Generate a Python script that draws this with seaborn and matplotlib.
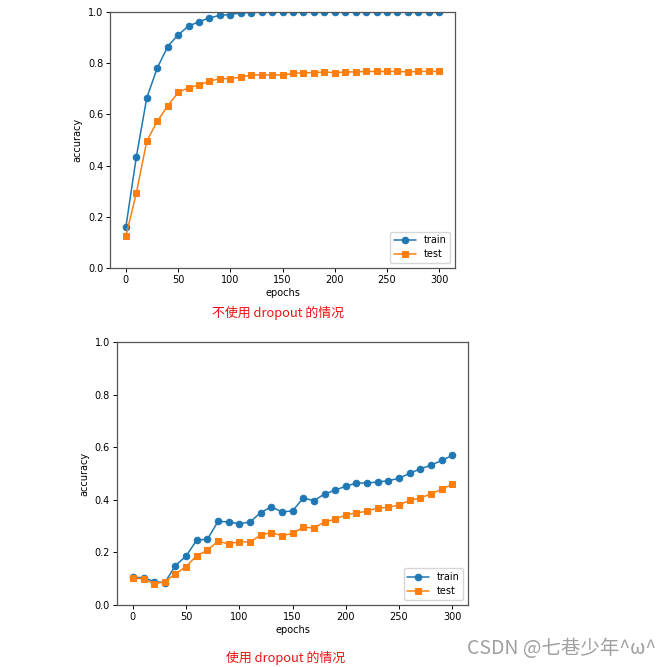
import numpy as np
import pandas as pd
import matplotlib
matplotlib.use('Agg')
import matplotlib.pyplot as plt
import seaborn as sns

# epochs at which values were read (every 10 epochs, markers in the original)
epochs = list(range(0, 301, 10))

# without dropout
train_no_dropout = [0.161, 0.434, 0.665, 0.781, 0.865, 0.911, 0.945, 0.962, 0.977, 0.987,
                    0.990, 0.997, 0.998, 0.999, 1.0, 1.0, 1.0, 1.0, 1.0, 1.0,
                    1.0, 1.0, 1.0, 1.0, 1.0, 1.0, 1.0, 1.0, 1.0, 1.0, 1.0]
test_no_dropout = [0.125, 0.293, 0.496, 0.573, 0.633, 0.686, 0.704, 0.715, 0.730, 0.740,
                   0.740, 0.746, 0.754, 0.754, 0.754, 0.754, 0.760, 0.763, 0.763, 0.766,
                   0.763, 0.766, 0.766, 0.768, 0.768, 0.768, 0.768, 0.766, 0.768, 0.768, 0.768]

# with dropout
train_dropout = [0.105, 0.104, 0.089, 0.085, 0.150, 0.186, 0.247, 0.250, 0.318, 0.316,
                 0.309, 0.316, 0.351, 0.374, 0.354, 0.358, 0.407, 0.397, 0.422, 0.437,
                 0.452, 0.464, 0.464, 0.468, 0.473, 0.482, 0.501, 0.518, 0.532, 0.550, 0.569]
test_dropout = [0.101, 0.100, 0.080, 0.089, 0.118, 0.146, 0.188, 0.208, 0.243, 0.232,
                0.241, 0.239, 0.266, 0.275, 0.264, 0.272, 0.296, 0.293, 0.316, 0.326,
                0.343, 0.350, 0.357, 0.369, 0.371, 0.381, 0.398, 0.407, 0.423, 0.440, 0.459]

captions = ["不使用 dropout 的情况", "使用 dropout 的情况"]
watermark = "CSDN @七巷少年^ω^"

sns.set_style("ticks")
plt.rcParams['font.family'] = ['DejaVu Sans', 'Noto Sans CJK SC']
plt.rcParams['text.color'] = 'black'
plt.rcParams['axes.labelcolor'] = 'black'
plt.rcParams['xtick.color'] = 'black'
plt.rcParams['ytick.color'] = 'black'

BLUE = '#1f77b4'
ORANGE = '#ff7f0e'


def draw_panel(ax, train, test):
    df = pd.DataFrame({"epochs": epochs, "train": train, "test": test})
    sns.lineplot(data=df, x="epochs", y="train", ax=ax, color=BLUE, marker='o',
                 markersize=4.7, markeredgecolor=BLUE, linewidth=1.1, label='train')
    sns.lineplot(data=df, x="epochs", y="test", ax=ax, color=ORANGE, marker='s',
                 markersize=4.4, markeredgecolor=ORANGE, linewidth=1.1, label='test')
    ax.set_xlim(-15, 315)
    ax.set_ylim(0, 1.0)
    ax.set_xticks([0, 50, 100, 150, 200, 250, 300])
    ax.set_yticks([0.0, 0.2, 0.4, 0.6, 0.8, 1.0])
    ax.set_xlabel("epochs", fontsize=7, labelpad=2)
    ax.set_ylabel("accuracy", fontsize=7, labelpad=4)
    ax.tick_params(labelsize=7, length=3, width=0.7, pad=2)
    for s in ax.spines.values():
        s.set_color('#555555')
        s.set_linewidth(0.9)
    ax.legend(loc='lower right', fontsize=7, handlelength=2.2, borderpad=0.4,
              labelspacing=0.4, framealpha=0.8)


fig = plt.figure(figsize=(6.68, 6.67), dpi=100)
ax1 = fig.add_axes([0.165, 0.598, 0.516, 0.384])
ax2 = fig.add_axes([0.175, 0.093, 0.526, 0.394])

draw_panel(ax1, train_no_dropout, test_no_dropout)
draw_panel(ax2, train_dropout, test_dropout)

fig.text(0.416, 0.531, captions[0], color='#ee1111', fontsize=9.3, ha='center', va='center',
         family=['Noto Sans CJK SC', 'DejaVu Sans'])
fig.text(0.427, 0.014, captions[1], color='#ee1111', fontsize=9.3, ha='center', va='center',
         family=['Noto Sans CJK SC', 'DejaVu Sans'])
fig.text(0.982, 0.028, watermark, color='#a0a0a0', fontsize=14, ha='right', va='center',
         family=['Noto Sans CJK SC', 'DejaVu Sans'])

fig.savefig("out.png", dpi=100)
plt.close(fig)
